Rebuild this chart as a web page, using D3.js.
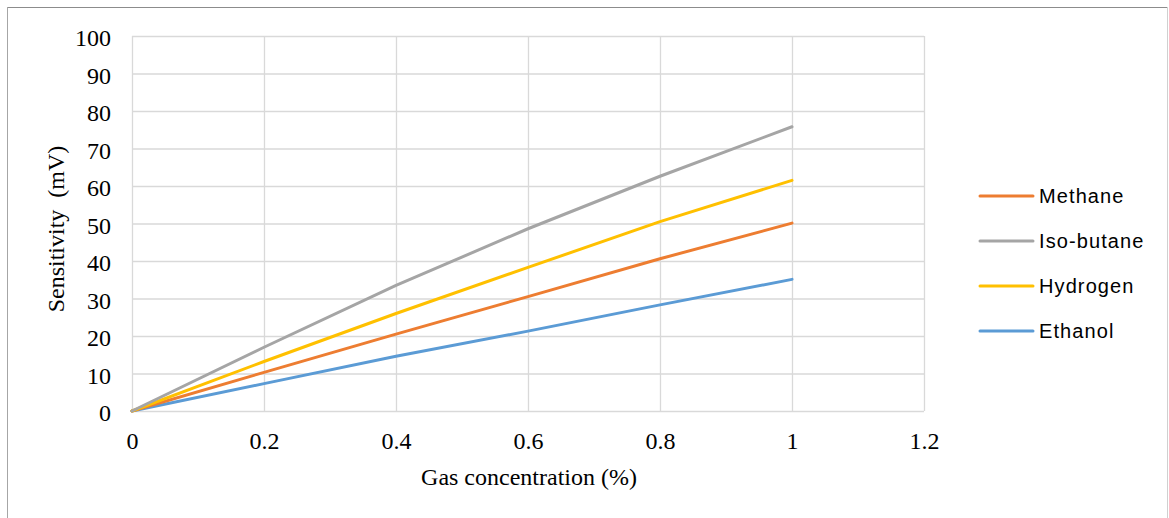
<!DOCTYPE html>
<html>
<head>
<meta charset="utf-8">
<script src="https://d3js.org/d3.v7.min.js"></script>
<style>
  body { margin: 0; background: #fff; }
  .tick text { font-family: "Liberation Serif", "Times New Roman", serif; font-size: 24px; fill: #000; }
  .tick line { stroke: #d9d9d9; stroke-width: 1.3; }
  .ttl { font-family: "Liberation Serif", "Times New Roman", serif; font-size: 24px; fill: #000; }
  .leg { font-family: "Liberation Sans", Arial, sans-serif; font-size: 20px; letter-spacing: 1.1px; fill: #000; }
</style>
</head>
<body>
<svg width="1169" height="518"></svg>
<script>
// values
var conc = [0, 0.2, 0.4, 0.6, 0.8, 1];
var methane   = [0, 10.3, 20.5, 30.5, 40.6, 50.1];
var isobutane = [0, 17.0, 33.5, 48.6, 62.6, 75.8];
var hydrogen  = [0, 13.2, 26.0, 38.3, 50.5, 61.5];
var ethanol   = [0, 7.3, 14.6, 21.3, 28.3, 35.1];
var seriesNames = ["Methane", "Iso-butane", "Hydrogen", "Ethanol"];
var seriesVals = [methane, isobutane, hydrogen, ethanol];
var colors = ["#ED7D31", "#A5A5A5", "#FFC000", "#5B9BD5"];
var xTicks = [0, 0.2, 0.4, 0.6, 0.8, 1, 1.2];
var yTicks = [0, 10, 20, 30, 40, 50, 60, 70, 80, 90, 100];

var svg = d3.select("svg");

// outer frame
svg.append("line").attr("x1", 7).attr("x2", 1168).attr("y1", 7.5).attr("y2", 7.5).attr("stroke", "#8c8c8c");
svg.append("line").attr("x1", 7.5).attr("x2", 7.5).attr("y1", 7).attr("y2", 518).attr("stroke", "#a6a6a6");
svg.append("line").attr("x1", 1167.5).attr("x2", 1167.5).attr("y1", 7).attr("y2", 518).attr("stroke", "#d0d0d0");

var mLeft = 132, mTop = 36, w = 792, h = 375;
var x = d3.scaleLinear().domain([0, 1.2]).range([0, w]);
var y = d3.scaleLinear().domain([0, 100]).range([h, 0]);

var g = svg.append("g").attr("transform", "translate(" + mLeft + "," + mTop + ")");

var ya = g.append("g")
  .call(d3.axisLeft(y).tickValues(yTicks).tickSize(-w).tickPadding(21).tickFormat(function(d) { return d; }));
ya.select(".domain").remove();
ya.selectAll(".tick text").attr("dy", "0.4em");

var xa = g.append("g").attr("transform", "translate(0," + h + ")")
  .call(d3.axisBottom(x).tickValues(xTicks).tickSize(-h).tickPadding(0).tickFormat(function(d) { return d; }));
xa.select(".domain").remove();
xa.selectAll(".tick text").attr("y", 38).attr("dy", 0);

// series lines
var line = d3.line()
  .x(function(d, i) { return x(conc[i]); })
  .y(function(d) { return y(d); });

// draw order so grey sits on top like the original
[3, 0, 2, 1].forEach(function(k) {
  g.append("path")
    .attr("d", line(seriesVals[k]))
    .attr("fill", "none")
    .attr("stroke", colors[k])
    .attr("stroke-width", 3)
    .attr("stroke-linejoin", "round")
    .attr("stroke-linecap", "round");
});

// axis titles
svg.append("text").attr("class", "ttl")
  .attr("x", 529).attr("y", 485).attr("text-anchor", "middle")
  .text("Gas concentration (%)");
svg.append("text").attr("class", "ttl")
  .attr("transform", "translate(64,229) rotate(-90)")
  .attr("text-anchor", "middle")
  .attr("xml:space", "preserve")
  .text("Sensitivity  (mV)");

// legend
var leg = svg.append("g").selectAll("g").data(seriesNames).enter().append("g")
  .attr("transform", function(d, i) { return "translate(980," + (196 + i * 45) + ")"; });
leg.append("line").attr("x1", 0).attr("x2", 53)
  .attr("stroke", function(d, i) { return colors[i]; })
  .attr("stroke-width", 3).attr("stroke-linecap", "round");
leg.append("text").attr("class", "leg")
  .attr("x", 59).attr("y", 7)
  .text(function(d) { return d; });
</script>
</body>
</html>
